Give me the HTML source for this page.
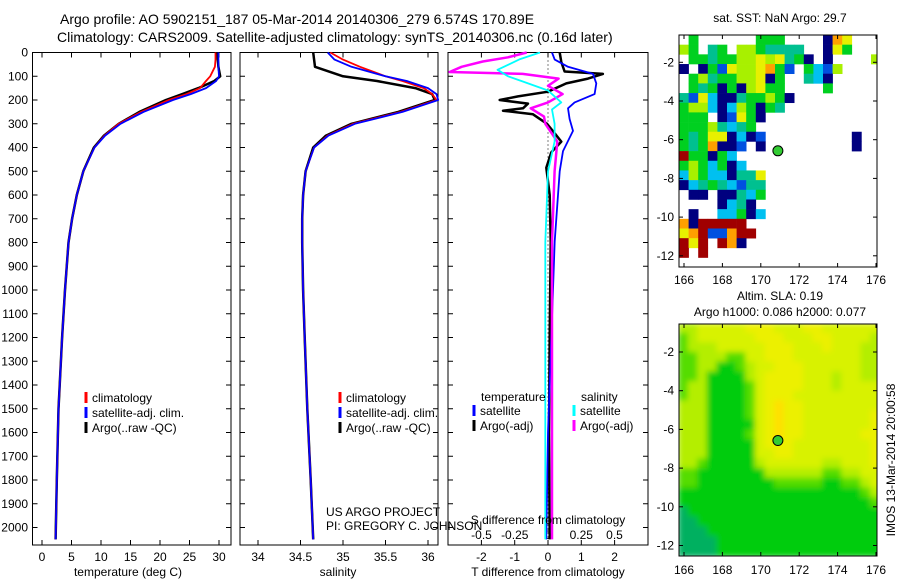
<!DOCTYPE html>
<html><head><meta charset="utf-8"><style>
html,body{margin:0;padding:0;background:#fff;}
svg{display:block;font-family:"Liberation Sans",sans-serif;}
text{font-size:12px;fill:#000;}
</style></head><body>
<svg id="chart" width="900" height="580" viewBox="0 0 900 580" xmlns="http://www.w3.org/2000/svg">
<text x="60" y="24" style="font-size:14px">Argo profile: AO 5902151_187 05-Mar-2014 20140306_279 6.574S 170.89E</text>
<text x="57" y="42" style="font-size:14px">Climatology: CARS2009. Satellite-adjusted climatology: synTS_20140306.nc (0.16d later)</text>
<g id="p1"></g>
<g id="p2"></g>
<g id="p3"></g>
<g id="m1"></g>
<g id="m2"></g>
<text x="780" y="22" text-anchor="middle">sat. SST: NaN Argo: 29.7</text>
<text x="780" y="300" text-anchor="middle">Altim. SLA: 0.19</text>
<text x="780" y="316" text-anchor="middle">Argo h1000: 0.086 h2000: 0.077</text>
<text transform="translate(895,460) rotate(-90)" text-anchor="middle">IMOS 13-Mar-2014 20:00:58</text>
<text x="326" y="516">US ARGO PROJECT</text>
<text x="326" y="530">PI: GREGORY C. JOHNSON</text>
</svg>
<script>
// ---- data ----
const depthTicks=[0,100,200,300,400,500,600,700,800,900,1000,1100,1200,1300,1400,1500,1600,1700,1800,1900,2000];
const profDepth=[0,30,60,100,120,150,175,200,250,300,350,400,500,600,700,800,1000,1200,1500,1800,2050];
const tClim=[29.4,29.4,29.3,28.5,27.8,26.8,24.5,21.5,16.8,13,10.6,8.9,7.0,5.9,5.1,4.5,3.9,3.4,2.8,2.5,2.3];
const tSat=[29.9,29.9,29.9,30.0,29.5,27.8,25.2,22.2,17.2,13.3,10.7,8.9,7.0,5.9,5.1,4.5,3.9,3.4,2.8,2.5,2.3];
const tArgo=[29.7,29.8,29.9,30.2,29.2,26.5,23.8,21.0,16.5,13.0,10.5,8.8,7.0,5.9,5.1,4.5,3.9,3.4,2.8,2.5,2.3];
const sClim=[34.85,35.0,35.2,35.5,35.7,35.95,36.05,36.1,35.68,35.12,34.82,34.66,34.56,34.53,34.52,34.52,34.53,34.55,34.58,34.62,34.65];
const sSat=[34.82,34.9,35.1,35.5,35.75,36.0,36.1,36.12,35.7,35.14,34.83,34.66,34.56,34.53,34.52,34.52,34.53,34.55,34.58,34.62,34.65];
const sArgo=[34.65,34.66,34.67,35.0,35.4,35.85,36.05,36.08,35.65,35.1,34.8,34.65,34.56,34.53,34.52,34.52,34.53,34.55,34.58,34.62,34.65];
const tTicks=[0,5,10,15,20,25,30];
const sTicks=[34,34.5,35,35.5,36];
const sTickLabels=["34","34.5","35","35.5","36"];
const dTTicks=[-2,-1,0,1,2];
const dSTicks=[-0.5,-0.25,0,0.25,0.5];
const tSatDiffDepth=[0,30,60,90,130,175,210,235,280,330,415,500,795,1200,1600,2050];
const tSatDiff=[0.12,0.2,0.6,1.35,1.45,1.4,0.8,0.6,0.65,0.75,0.45,0.35,0.2,0.1,0.0,-0.05];
const tArgoDiffDepth=[0,40,80,90,110,130,165,185,200,215,235,245,260,300,340,375,420,485,600,800,1200,1600,2050];
const tArgoDiff=[0.35,0.4,0.5,1.65,1.2,0.55,0.0,-0.9,-1.45,-0.6,-0.75,-1.35,-0.45,-0.03,0.2,0.4,0.1,-0.05,0.05,0.08,0.05,0.03,0.05];
const sArgoDiffDepth=[0,20,38,60,82,90,110,140,175,210,235,270,300,375,500,800,1200,2050];
const sArgoDiff=[-0.16,-0.3,-0.49,-0.65,-0.74,-0.19,0.08,0,0.11,0.0,-0.13,-0.03,-0.02,0.07,0.05,0.03,0.03,0.03];
const sSatDiffDepth=[0,28,73,100,120,160,210,240,300,375,500,800,1200,2050];
const sSatDiff=[-0.06,-0.21,-0.38,-0.3,-0.2,0,0.1,0.03,0.05,0.05,0,-0.02,-0.02,-0.02];
const lonTicks=[166,168,170,172,174,176];
const latTicks=[-2,-4,-6,-8,-10,-12];
const argoLon=170.89, argoLat=-6.574;
const sstRows=[
".g......ggg....noy...",
"lg.tg.llgtttt..nyg...",
".ggtggllylytgn.n....l",
"n.ngbyllyogb.gcbl....",
".gltggllyng..tcn.....",
".gtgngnlygg....g.....",
"tbycnntgglgn.........",
"gllcnclgngt..........",
"ggg.nbygn............",
"gggltctg.............",
"gtgyyncnb.........n..",
"gtgonnb.n.........n..",
"rggngc...............",
"glgcgnc..............",
"clgccntty............",
"nctgtcbtt............",
".nn.nntcg............",
"....nctn.............",
".n..ccgnc............",
"onrrrrr..............",
"yorbborr.............",
"ryr.ron..............",
"r.r..................",
"....................."];
const slaRows=[
"334444455544455444444",
"234444445554445544443",
"233344444555444544433",
"223332244555444444433",
"223311234455544444433",
"223111134555544434433",
"233111124555544434444",
"233111124555444444444",
"333111124565544444444",
"333111124565544444445",
"333111114565544444445",
"333111124565544444455",
"333111114555444444445",
"333111114455444444445",
"332111113444444334445",
"221111111333333223344",
"221111111122222112234",
"111111111111111111123",
"111111111111111111112",
"011111111111111111111",
"001111111111111111111",
"000111111111111111111",
"000011111111111111111",
"000011111111111111111"];

// ---- helpers ----
const NS="http://www.w3.org/2000/svg";
function mk(tag,attrs,parent){const e=document.createElementNS(NS,tag);for(const k in attrs)e.setAttribute(k,attrs[k]);parent.appendChild(e);return e;}
function txt(s,x,y,anchor,parent){const t=mk('text',{x:x,y:y,'text-anchor':anchor||'start'},parent);t.textContent=s;return t;}
const Y0=52.5, YS=0.2375, PB=545;
const yD=d=>Y0+d*YS;
const xT=t=>42+t*5.9;
const xS=s=>258+(s-34)*85;
const xDT=v=>548+v*33.3;
const xDS=v=>548+v*133;
function line(g,depths,vals,fx,color,w,name){
  const pts=depths.map((d,i)=>fx(vals[i]).toFixed(1)+','+Math.min(yD(d),PB).toFixed(1)).join(' ');
  const p=mk('polyline',{points:pts,fill:'none',stroke:color,'stroke-width':w,'stroke-linejoin':'round'},g);
  
  
}
function frame(g,x0,x1,name){
  const r=mk('rect',{x:x0,y:Y0,width:x1-x0,height:PB-Y0,fill:'none',stroke:'#000','stroke-width':1},g);
  
  
  depthTicks.forEach(d=>{mk('line',{x1:x0,x2:x0+5,y1:yD(d),y2:yD(d),stroke:'#000'},g);mk('line',{x1:x1,x2:x1-5,y1:yD(d),y2:yD(d),stroke:'#000'},g);});
}
function xticks(g,ticks,fx,labels,ylab,top){
  ticks.forEach((t,i)=>{const x=fx(t);mk('line',{x1:x,x2:x,y1:PB,y2:PB-5,stroke:'#000'},g);if(top)mk('line',{x1:x,x2:x,y1:Y0,y2:Y0+5,stroke:'#000'},g);
    const l=txt(labels[i],x,ylab,'middle',g);});
}
function legendEntry(g,x,y,color,label){
  mk('line',{x1:x,x2:x,y1:y-10,y2:y+1,stroke:color,'stroke-width':3},g);
  const t=txt(label,x+6,y,'start',g);
  
  
}
// ---- panel 1 ----
const p1=document.getElementById('p1');
frame(p1,32.5,231,'temperature-axes-frame');
depthTicks.forEach(d=>{const l=txt(String(d),28,yD(d)+4,'end',p1);});
xticks(p1,tTicks,xT,tTicks.map(String),561,true);
const t1=txt('temperature (deg C)',128,576,'middle',p1);
line(p1,profDepth,tArgo,xT,'#000',2.5,'temp-argo-line');
line(p1,profDepth,tClim,xT,'#f00',1.8,'temp-climatology-line');
line(p1,profDepth,tSat,xT,'#00f',1.8,'temp-satellite-line');
legendEntry(p1,86,402,'#f00','climatology');
legendEntry(p1,86,417,'#00f','satellite-adj. clim.');
legendEntry(p1,86,432,'#000','Argo(..raw -QC)');
// ---- panel 2 ----
const p2=document.getElementById('p2');
frame(p2,240,438,'salinity-axes-frame');
xticks(p2,sTicks,xS,sTickLabels,561,true);
const t2=txt('salinity',338,576,'middle',p2);
line(p2,profDepth,sArgo,xS,'#000',2.5,'sal-argo-line');
line(p2,profDepth,sClim,xS,'#f00',1.8,'sal-climatology-line');
line(p2,profDepth,sSat,xS,'#00f',1.8,'sal-satellite-line');
legendEntry(p2,340,402,'#f00','climatology');
legendEntry(p2,340,417,'#00f','satellite-adj. clim.');
legendEntry(p2,340,432,'#000','Argo(..raw -QC)');
// ---- panel 3 ----
const p3=document.getElementById('p3');
frame(p3,448,648,'difference-axes-frame');
mk('line',{x1:548,x2:548,y1:Y0,y2:PB,stroke:'#000','stroke-dasharray':'1,3'},p3);
xticks(p3,dTTicks,xDT,dTTicks.map(String),561,true);
dSTicks.forEach((t,i)=>{const l=txt(['-0.5','-0.25','0','0.25','0.5'][i],xDS(t),539,'middle',p3);});
line(p3,tArgoDiffDepth,tArgoDiff,xDT,'#000',2.5,'tdiff-argo-line');
line(p3,tSatDiffDepth,tSatDiff,xDT,'#00f',1.8,'tdiff-satellite-line');
line(p3,sArgoDiffDepth,sArgoDiff,xDS,'#f0f',2.5,'sdiff-argo-line');
line(p3,sSatDiffDepth,sSatDiff,xDS,'#0ff',1.8,'sdiff-satellite-line');
const t3=txt('S difference from climatology',548,524,'middle',p3);
const t4=txt('T difference from climatology',548,576,'middle',p3);
const lh1=txt('temperature',481,401,'start',p3);
const lh2=txt('salinity',581,401,'start',p3);
legendEntry(p3,474,415,'#00f','satellite');
legendEntry(p3,474,430,'#000','Argo(-adj)');
legendEntry(p3,574,415,'#0ff','satellite');
legendEntry(p3,574,430,'#f0f','Argo(-adj)');
// ---- maps ----
const xLon=l=>684+(l-166)*19.2;
const yLat1=l=>62.3+(-2-l)*19.35;
const yLat2=l=>352+(-2-l)*19.35;
const sstCol={n:'#00007f',b:'#0050e0',c:'#00c0f0',t:'#00c090',g:'#00d020',l:'#a8f000',y:'#e8f000',o:'#ffa000',r:'#a00000'};
const slaCol=['#00b060','#00cc10','#55dd00','#b4ee00','#d8f200','#ecf000','#ffe000'];
function mapAxes(g,top,bot,yLat,labY){
  const r=mk('rect',{x:679,y:top,width:198,height:bot-top,fill:'none',stroke:'#000'},g);
  
  
  lonTicks.forEach(l=>{const x=xLon(l);mk('line',{x1:x,x2:x,y1:bot,y2:bot-4,stroke:'#000'},g);mk('line',{x1:x,x2:x,y1:top,y2:top+4,stroke:'#000'},g);
    const t=txt(String(l),x,labY,'middle',g);});
  latTicks.forEach(l=>{const y=yLat(l);mk('line',{x1:679,x2:683,y1:y,y2:y,stroke:'#000'},g);mk('line',{x1:877,x2:873,y1:y,y2:y,stroke:'#000'},g);
    const t=txt(String(l),674,y+4,'end',g);});
  const c=mk('circle',{cx:xLon(argoLon),cy:yLat(argoLat),r:5,fill:'#33cc33',stroke:'#000','stroke-width':1},g);
  
  
}
const m1=document.getElementById('m1');
const CW=9.6,CH=9.675;
sstRows.forEach((row,i)=>{[...row].forEach((ch,j)=>{if(ch==='.')return;
  const x=679+j*CW,y=35+i*CH;const w=Math.min(CW,877-x),h=Math.min(CH,267-y);if(w<=0||h<=0)return;
  const c=mk('rect',{x:x,y:y,width:w+0.3,height:h+0.3,fill:sstCol[ch]},m1);
  
  });});
mapAxes(m1,35,267,yLat1,284);
const m2=document.getElementById('m2');
const defs=mk('defs',{},m2);
const f=mk('filter',{id:'bl',x:'-5%',y:'-5%',width:'110%',height:'110%'},defs);
mk('feGaussianBlur',{stdDeviation:'3'},f);
const cp=mk('clipPath',{id:'cp'},defs);mk('rect',{x:679,y:324,width:198,height:232},cp);
const cg=mk('g',{'clip-path':'url(#cp)'},m2);
const bg=mk('g',{filter:'url(#bl)'},cg);
slaRows.forEach((row,i)=>{[...row].forEach((ch,j)=>{
  const c=mk('rect',{x:679+j*CW-1,y:324+i*CH-1,width:CW+2,height:CH+2,fill:slaCol[+ch]},bg);
  
  });});
mapAxes(m2,324,556,yLat2,574);
</script>
</body></html>
